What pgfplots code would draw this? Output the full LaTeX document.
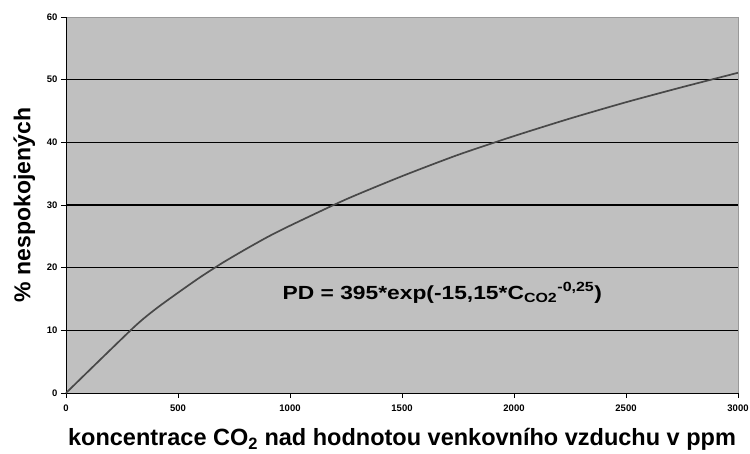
\documentclass[border=0pt]{standalone}
\usepackage{fontspec}
\setmainfont{Liberation Sans}
\usepackage{pgfplots}
\pgfplotsset{compat=1.18}
\definecolor{plotbg}{HTML}{C0C0C0}
\definecolor{curve}{HTML}{484848}
\begin{document}
\begin{tikzpicture}
\useasboundingbox (-66bp,-61bp) rectangle (684bp,393bp);
\begin{axis}[
  at={(0,0)}, anchor=south west,
  scale only axis, width=672bp, height=376bp,
  xmin=0, xmax=3000, ymin=0, ymax=60,
  xtick={0,500,...,3000},
  ytick={10,20,30,40,50},
  extra y ticks={0,60},
  extra y tick style={grid=none},
  ymajorgrids,
  grid style={black, line width=1.1pt},
  axis background/.style={fill=plotbg, draw=gray!80},
  axis x line*=bottom, axis y line*=left,
  axis line style={-, black, line width=1pt},
  tick style={black, line width=0.9pt},
  tick align=outside,
  major tick length=5bp,
  /pgf/number format/assume math mode=true,
  /pgf/number format/1000 sep={},
  ticklabel style={font=\fontsize{9.5bp}{11bp}\selectfont\bfseries},
  xticklabel style={yshift=-3bp},
  xlabel={koncentrace CO\textsubscript{2} nad hodnotou venkovního vzduchu v ppm},
  ylabel={\% nespokojených},
  xlabel style={font=\fontsize{23.5bp}{26bp}\selectfont\bfseries, yshift=-10bp},
  ylabel style={font=\fontsize{23bp}{25bp}\selectfont\bfseries, yshift=-5bp},
  clip=false,
]
\addplot[curve, line width=1.7pt, smooth, tension=0.4] coordinates {
(0,0) (300,10.4) (400,13.4) (500,16.0) (600,18.5) (700,20.8) (800,22.9)
(900,24.9) (1000,26.7) (1250,30.9) (1500,34.6) (1750,38.0) (2000,41.0)
(2250,43.8) (2500,46.4) (2750,48.8) (3000,51.1)
};
\node[font=\fontsize{19bp}{21bp}\selectfont\bfseries, xscale=1.2] at (axis cs:1680,16)
  {PD = 395*exp(-15,15*C\textsubscript{CO2}\textsuperscript{-0,25})};
\end{axis}
\end{tikzpicture}
\end{document}
